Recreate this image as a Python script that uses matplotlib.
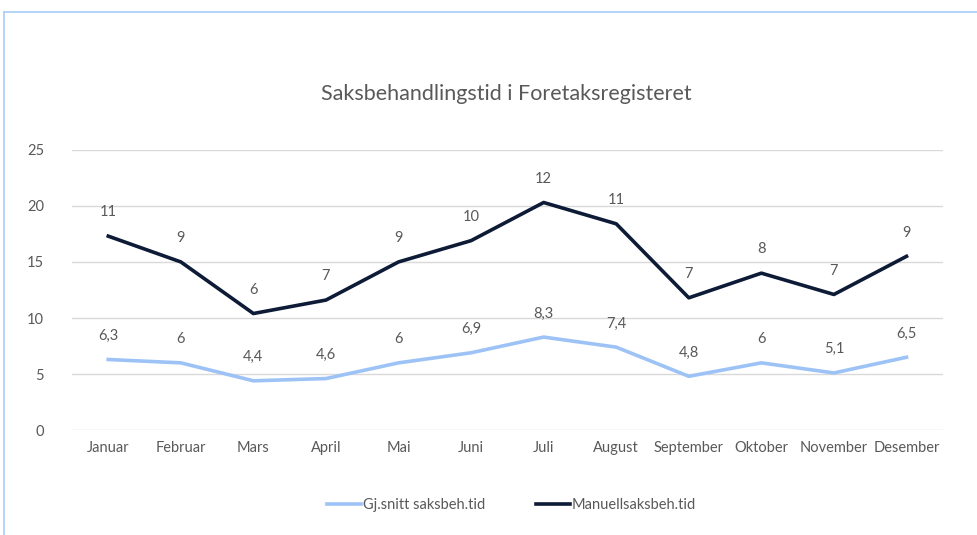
import matplotlib
matplotlib.use("Agg")
import matplotlib.pyplot as plt
from matplotlib.lines import Line2D

plt.rcParams['font.family'] = ['Lato', 'DejaVu Sans']

months = ["Januar", "Februar", "Mars", "April", "Mai", "Juni", "Juli",
          "August", "September", "Oktober", "November", "Desember"]
snitt = [6.3, 6, 4.4, 4.6, 6, 6.9, 8.3, 7.4, 4.8, 6, 5.1, 6.5]
manuell = [11, 9, 6, 7, 9, 10, 12, 11, 7, 8, 7, 9]
yticks = [0, 5, 10, 15, 20, 25]

light = "#9DC3F6"
dark = "#0D1B36"
grey = "#595959"

fig = plt.figure(figsize=(9.78, 5.35), dpi=100)
ax = fig.add_axes([0.0736, 0.196, 0.8904, 0.524])

x = list(range(len(months)))
# stacked line chart: the dark line sits on top of the light one
stacked = [a + b for a, b in zip(snitt, manuell)]

ax.plot(x, snitt, color=light, lw=2.6, solid_joinstyle='round')
ax.plot(x, stacked, color=dark, lw=2.6, solid_joinstyle='round')

def fmt(v):
    s = f"{v:g}"
    return s.replace(".", ",")

for i in x:
    ax.annotate(fmt(snitt[i]), (i, snitt[i]), xytext=(0, 12), textcoords='offset points',
                ha='center', va='bottom', fontsize=10.5, color=grey)
    ax.annotate(fmt(manuell[i]), (i, stacked[i]), xytext=(0, 12), textcoords='offset points',
                ha='center', va='bottom', fontsize=10.5, color=grey)

ax.set_xlim(-0.5, len(months) - 0.5)
ax.set_ylim(0, 25)
ax.set_yticks(yticks)
ax.set_xticks(x)
ax.set_xticklabels(months)
ax.grid(axis='y', color="#D9D9D9", lw=1)
ax.set_axisbelow(True)
for s in ax.spines.values():
    s.set_visible(False)
ax.tick_params(length=0, labelsize=10.5, labelcolor=grey)
ax.tick_params(axis='y', pad=20)
ax.tick_params(axis='x', pad=8)

fig.text(0.518, 0.824, "Saksbehandlingstid i Foretaksregisteret", ha='center', va='center',
         fontsize=15.5, color=grey)

handles = [Line2D([], [], color=light, lw=2.6), Line2D([], [], color=dark, lw=2.6)]
fig.legend(handles, ["Gj.snitt saksbeh.tid", "Manuellsaksbeh.tid"], loc='center',
           bbox_to_anchor=(0.523, 0.056), ncol=2, frameon=False, fontsize=10.5,
           labelcolor=grey, handlelength=2.3, handletextpad=0.15, columnspacing=3.5)

# partial chart frame
fig.add_artist(Line2D([4 / 978, 1], [1 - 12 / 535, 1 - 12 / 535], color="#A9CDF8", lw=1.2))
fig.add_artist(Line2D([4 / 978, 4 / 978], [0, 1 - 12 / 535], color="#A9CDF8", lw=1.2))

fig.savefig("out.png", dpi=100)
